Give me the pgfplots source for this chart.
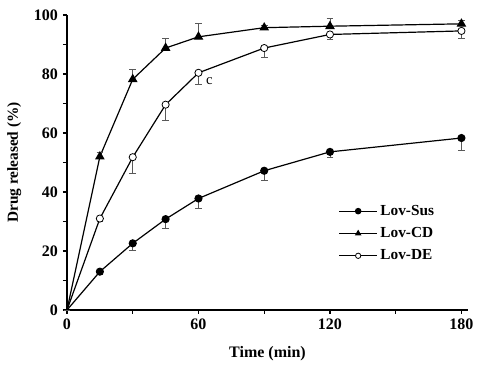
\documentclass[border=0pt]{standalone}
\usepackage{fontspec}
\setmainfont{Liberation Serif}
\usepackage{pgfplots}
\pgfplotsset{compat=1.18}
\begin{document}
\fontsize{11}{13}\selectfont
\begin{tikzpicture}
\useasboundingbox (-50.25pt,-42pt) rectangle (310.5pt,232.5pt);
\begin{axis}[
  scale only axis,
  width=300.75pt, height=221.25pt,
  xmin=0, xmax=183, ymin=0, ymax=100,
  axis lines=left,
  axis line style={-, line width=1.1pt},
  tick align=outside,
  tick style={black, line width=0.9pt},
  major tick length=3pt, minor tick length=3pt,
  xtick={0,60,120,180}, minor xtick={30,90,150},
  ytick={0,20,40,60,80,100}, minor ytick={10,30,50,70,90},
  /pgf/number format/assume math mode=true,
  ticklabel style={font=\fontsize{12}{14}\selectfont\bfseries},
  xlabel={\bfseries Time (min)}, ylabel={\bfseries Drug released (\%)},
  xlabel style={font=\fontsize{12}{14}\selectfont, yshift=-5pt},
  ylabel style={font=\fontsize{11.5}{13}\selectfont, yshift=2pt},
  clip=false,
  legend style={at={(axis cs:122,37.5)}, anchor=north west, draw=none, fill=none,
    font=\fontsize{11.5}{13}\selectfont\bfseries, row sep=3.5pt},
  legend cell align=left,
  legend image code/.code={\draw[mark indices={2}, mark size=2pt] plot coordinates {(0cm,0cm) (0.5cm,0cm) (1cm,0cm)};},
  error bars/error bar style={gray!70!black, line width=0.6pt},
  error bars/error mark options={rotate=90, mark size=2.5pt, gray!70!black, line width=0.6pt},
]
\addplot[black, line width=0.9pt, mark=*, mark size=2.6pt, mark options={solid, fill=black}, mark indices={2,3,4,5,6,7,8},
  error bars/.cd, y dir=minus, y explicit]
  coordinates {(0,0) +- (0,0) (15,13) +- (0,1) (30,22.6) +- (0,2.5) (45,30.8) +- (0,3) (60,37.8) +- (0,3.5)
  (90,47.2) +- (0,3.3) (120,53.6) +- (0,2) (180,58.3) +- (0,4.2)};
\addlegendentry{Lov-Sus}
\addplot[black, line width=0.9pt, mark=triangle*, mark size=3.3pt, mark options={solid, fill=black}, mark indices={2,3,4,5,6,7,8},
  error bars/.cd, y dir=plus, y explicit]
  coordinates {(0,0) +- (0,0) (15,52) +- (0,1.3) (30,78.2) +- (0,3.3) (45,88.8) +- (0,3.4) (60,92.6) +- (0,4.4)
  (90,95.7) +- (0,0.8) (120,96.2) +- (0,2.5) (180,97) +- (0,1.3)};
\addlegendentry{Lov-CD}
\addplot[black, line width=0.9pt, mark=*, mark size=2.7pt, mark options={solid, fill=white, line width=0.6pt}, mark indices={2,3,4,5,6,7,8},
  error bars/.cd, y dir=minus, y explicit]
  coordinates {(0,0) +- (0,0) (15,31) +- (0,1) (30,51.8) +- (0,5.5) (45,69.6) +- (0,5.3) (60,80.4) +- (0,4)
  (90,88.8) +- (0,3.2) (120,93.4) +- (0,1.6) (180,94.6) +- (0,2.4)};
\addlegendentry{Lov-DE}
\node[font=\fontsize{11}{13}\selectfont] at (axis cs:65,77.5) {c};
\end{axis}
\end{tikzpicture}
\end{document}
